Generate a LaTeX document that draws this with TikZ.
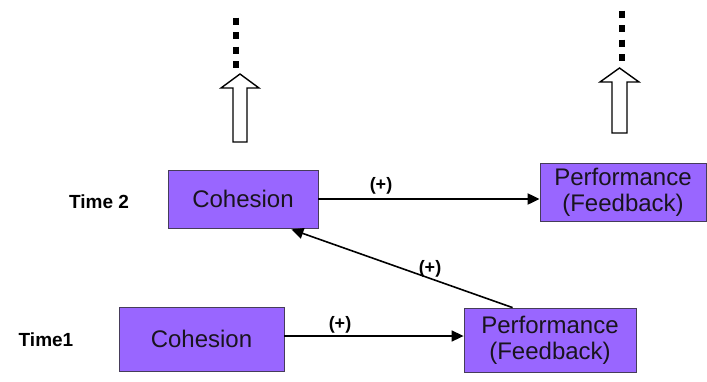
\documentclass[tikz,border=0pt]{standalone}
\usepackage{fontspec}
\setmainfont{Liberation Sans}
\usetikzlibrary{arrows.meta,calc}
\definecolor{boxpurple}{RGB}{153,102,255}
\definecolor{boxedge}{RGB}{70,60,90}
\definecolor{txt}{RGB}{25,20,30}
\begin{document}
\begin{tikzpicture}[x=1pt,y=-1pt,
  box/.style={draw=boxedge,line width=0.8pt,fill=boxpurple,rectangle,inner sep=0pt,align=center,text=txt,font=\fontsize{24}{26}\selectfont},
  timelbl/.style={font=\bfseries\fontsize{19}{21}\selectfont,inner sep=0pt},
  plus/.style={font=\bfseries\fontsize{18}{20}\selectfont,inner sep=0pt},
  conn/.style={line width=1.6pt,-{Triangle[length=12pt,width=11pt]}},
  hollow/.style={draw=black,line width=1.4pt,fill=white},
  dots/.style={line width=6.5pt,dash pattern=on 7pt off 7.5pt}]
\useasboundingbox (0,0) rectangle (707,381);
\fill[white] (0,0) rectangle (707,381);
% boxes
\node[box,minimum width=150pt,minimum height=58pt] (C2) at (243,199) {Cohesion};
\node[box,minimum width=166pt,minimum height=58pt] (P2) at (623,192) {Performance\\(Feedback)};
\node[box,minimum width=165pt,minimum height=64pt] (C1) at (201.5,339) {Cohesion};
\node[box,minimum width=172pt,minimum height=64pt] (P1) at (550,340) {Performance\\(Feedback)};
% time labels
\node[timelbl] (T2) at (99,202) {Time 2};
\node[timelbl] (T1) at (46,340) {Time1};
% connectors
\draw[conn,line width=2pt] (C2.east) -- (C2.east -| P2.west);
\node[plus] (L2) at (381,186) {(+)};
\draw[conn] ($(C1.east)+(0,-3)$) -- ($(C1.east -| P1.west)+(0,-3)$);
\node[plus] (L1) at (340,325) {(+)};
\coordinate (dstart) at ($(P1.north west)+(49,0)$);
\coordinate (dend) at ($(C2.south east)+(-27,1)$);
\draw[conn] (dstart) -- (dend);
\node[plus] (LD) at (430,269) {(+)};
% hollow arrows
\draw[hollow] (233,142) -- (233,88) -- (221,88) -- (240,74) -- (259,88) -- (247,88) -- (247,142) -- cycle;
\draw[hollow] (612,133) -- (612,82) -- (600,82) -- (619.5,68) -- (639,82) -- (627,82) -- (627,133) -- cycle;
% dotted continuations
\draw[dots] (236,17.5) -- (236,70);
\draw[dots] (622,10.5) -- (622,63);
\end{tikzpicture}
\end{document}
